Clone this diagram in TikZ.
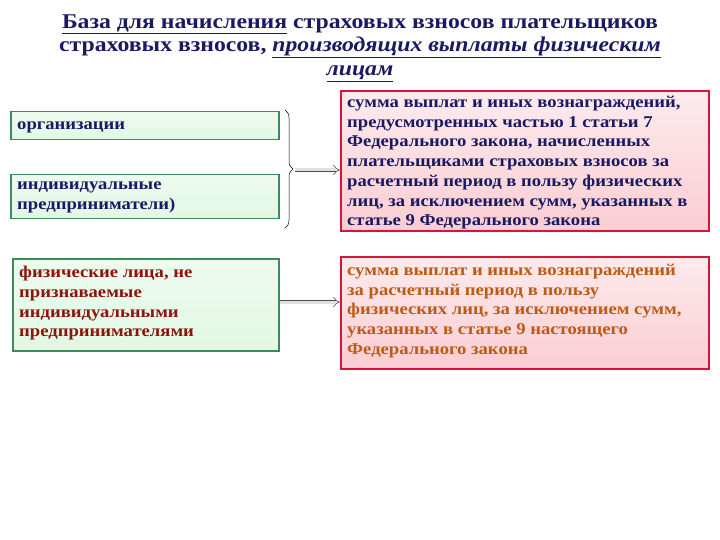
\documentclass[tikz,border=0pt]{standalone}
\usepackage{fontspec}
\setmainfont{Liberation Serif}[FakeStretch=1.13]
\usetikzlibrary{arrows.meta,decorations.pathreplacing}
\definecolor{navy}{RGB}{25,25,100}
\definecolor{dred}{RGB}{140,20,10}
\definecolor{orbr}{RGB}{190,90,20}
\definecolor{gborder}{RGB}{60,140,90}
\definecolor{gfill}{RGB}{225,248,228}
\definecolor{rborder}{RGB}{215,20,60}
\definecolor{pfill}{RGB}{250,205,210}
\tikzset{
 gbox/.style={draw=gborder,line width=1.5pt,top color=gfill!60!white,bottom color=gfill,anchor=north west,align=left,inner sep=0pt},
 pbox/.style={draw=rborder,line width=1.8pt,top color=pfill!40!white,bottom color=pfill,anchor=north west,inner sep=0pt},
 btxt/.style={font=\bfseries\fontsize{16.5}{19.7}\selectfont,align=left,anchor=north west,inner sep=0pt},
 harrow/.style={draw=black!70,double=black!12,double distance=3pt,line width=0.6pt,-{Implies[length=9pt,width=12pt]}},
 ttl/.style={font=\bfseries\fontsize{21}{23.5}\selectfont,text=navy,align=center}
}
\begin{document}
\begin{tikzpicture}[x=1pt,y=-1pt]
\useasboundingbox (0,0) rectangle (720,540);
\node[ttl] (title) at (360,48) {\underline{База для начисления} страховых взносов плательщиков\\
страховых взносов, \underline{\itshape производящих выплаты физическим}\\
\underline{\itshape лицам}};
\node[gbox,minimum width=268pt,minimum height=28pt] (org) at (10,111) {};
\node[btxt,text=navy,anchor=west] (orgt) at (17,127) {организации};
\node[gbox,minimum width=268pt,minimum height=44pt] (ip) at (10,174) {};
\node[btxt,text=navy] (ipt) at (17,182) {индивидуальные\\предприниматели)};
\draw[decorate,decoration={brace,amplitude=8pt},line width=0.5pt] (285,110) -- (285,228);
\coordinate (bt) at (295,170);
\node[pbox,minimum width=368pt,minimum height=140pt] (r1) at (340,90) {};
\node[btxt,text=navy] (r1t) at (347,96) {сумма выплат и иных вознаграждений,\\предусмотренных частью 1 статьи 7\\Федерального закона, начисленных\\плательщиками страховых взносов за\\расчетный период в пользу физических\\лиц, за исключением сумм, указанных в\\статье 9 Федерального закона};
\draw[harrow] (bt) -- (r1.west|-bt);
\node[gbox,minimum width=266pt,minimum height=92pt] (fl) at (12,258) {};
\node[btxt,text=dred] (flt) at (19,266) {физические лица, не\\признаваемые\\индивидуальными\\предпринимателями};
\node[pbox,minimum width=368pt,minimum height=112pt] (r2) at (340,256) {};
\node[btxt,text=orbr] (r2t) at (347,264) {сумма выплат и иных вознаграждений\\за расчетный период в пользу\\физических лиц, за исключением сумм,\\указанных в статье 9 настоящего\\Федерального закона};
\draw[harrow] (fl.east|-0,302) -- (r2.west|-0,302);
\end{tikzpicture}
\end{document}
